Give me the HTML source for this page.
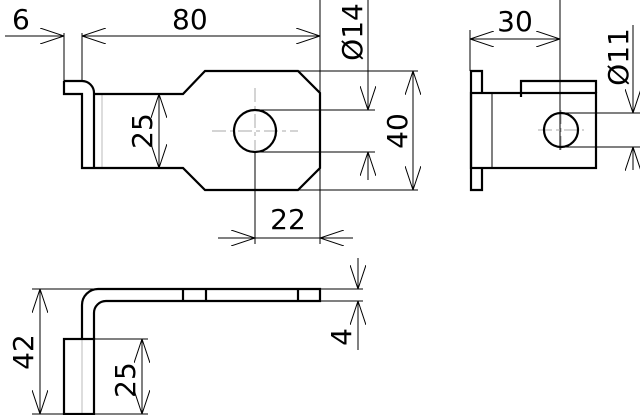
<!DOCTYPE html>
<html><head><meta charset="utf-8"><style>html,body{margin:0;padding:0;background:#fff}svg{display:block}</style></head><body>
<svg width="640" height="415" viewBox="0 0 640 415" xmlns="http://www.w3.org/2000/svg" font-family="'DejaVu Sans','Liberation Sans',sans-serif" font-size="28" fill="none" stroke="#000">
<defs>
<marker id="a" viewBox="0 0 24 16" refX="24" refY="8" markerWidth="24" markerHeight="16" markerUnits="userSpaceOnUse" orient="auto"><path d="M0,0 L24,8 L0,16" stroke="#000" stroke-width="1" fill="none"/></marker>
<marker id="b" viewBox="0 0 24 16" refX="24" refY="8" markerWidth="24" markerHeight="16" markerUnits="userSpaceOnUse" orient="auto-start-reverse"><path d="M0,0 L24,8 L0,16" stroke="#000" stroke-width="1" fill="none"/></marker>
</defs>
<g stroke-width="1">
<line x1="5" y1="36" x2="64" y2="36" marker-end="url(#a)"/>
<line x1="82" y1="36" x2="320" y2="36" marker-start="url(#b)" marker-end="url(#a)"/>
<line x1="64" y1="33" x2="64" y2="81"/>
<line x1="82" y1="33" x2="82" y2="81"/>
<line x1="320" y1="0" x2="320" y2="244"/>
<line x1="159" y1="94" x2="159" y2="168" marker-start="url(#b)" marker-end="url(#a)"/>
<line x1="368" y1="0" x2="368" y2="110" marker-end="url(#a)"/>
<line x1="368" y1="180" x2="368" y2="152" marker-end="url(#a)"/>
<line x1="255" y1="110" x2="375" y2="110"/>
<line x1="255" y1="152" x2="375" y2="152"/>
<line x1="298" y1="71" x2="418" y2="71"/>
<line x1="298" y1="190" x2="418" y2="190"/>
<line x1="413" y1="71" x2="413" y2="190" marker-start="url(#b)" marker-end="url(#a)"/>
<line x1="218" y1="238" x2="255" y2="238" marker-end="url(#a)"/>
<line x1="255" y1="238" x2="353" y2="238"/>
<line x1="353" y1="238" x2="320" y2="238" marker-end="url(#a)"/>
<line x1="255" y1="152" x2="255" y2="244"/>
<line x1="470" y1="39" x2="560" y2="39" marker-start="url(#b)" marker-end="url(#a)"/>
<line x1="470" y1="30" x2="470" y2="71"/>
<line x1="560" y1="0" x2="560" y2="150"/>
<line x1="561" y1="113" x2="640" y2="113"/>
<line x1="561" y1="147" x2="640" y2="147"/>
<line x1="633" y1="25" x2="633" y2="113" marker-end="url(#a)"/>
<line x1="633" y1="170" x2="633" y2="147" marker-end="url(#a)"/>
<line x1="32" y1="289" x2="100" y2="289"/>
<line x1="32" y1="414" x2="148" y2="414"/>
<line x1="40" y1="289" x2="40" y2="414" marker-start="url(#b)" marker-end="url(#a)"/>
<line x1="94" y1="339" x2="148" y2="339"/>
<line x1="142" y1="339" x2="142" y2="414" marker-start="url(#b)" marker-end="url(#a)"/>
<line x1="320" y1="289" x2="363" y2="289"/>
<line x1="320" y1="301" x2="363" y2="301"/>
<line x1="358" y1="258" x2="358" y2="289" marker-end="url(#a)"/>
<line x1="358" y1="350" x2="358" y2="301" marker-end="url(#a)"/>
</g>
<g stroke="#aaa" stroke-width="1" stroke-dasharray="14,4,4,4">
<line x1="212" y1="131" x2="298" y2="131"/>
<line x1="255" y1="88" x2="255" y2="150"/>
<line x1="538" y1="130" x2="584" y2="130"/>
<line x1="561" y1="110" x2="561" y2="150"/>
</g>
<line x1="102" y1="94" x2="102" y2="168" stroke="#bbb" stroke-width="1"/>
<line x1="82" y1="339" x2="82" y2="414" stroke="#bbb" stroke-width="1"/>
<g stroke-width="2.2" stroke-linejoin="miter">
<path d="M64,81 L82,81 A12,12 0 0 1 94,93 L94,168 M64,81 L64,94 L82,94 L82,168 L183,168 L205,190 L298,190 L320,168 L320,93 L298,71 L205,71 L183,94 L94,94"/>
<circle cx="255" cy="131" r="21"/>
<path d="M482,93 L482,71 L471,71 L471,190 L482,190 L482,168"/>
<rect x="471" y="93" width="125" height="75"/>
<path d="M521,97 L521,81 L596,81 L596,93"/>
<circle cx="561" cy="130" r="17"/>
<path d="M82,339 L82,305 A16,16 0 0 1 98,289 L320,289 L320,301 L106,301 A12,12 0 0 0 94,313 L94,339"/>
<line x1="183" y1="289" x2="183" y2="301"/>
<line x1="206" y1="289" x2="206" y2="301"/>
<line x1="298" y1="289" x2="298" y2="301"/>
<rect x="64" y="339" width="30" height="75"/>
</g>
<line x1="492" y1="93" x2="492" y2="168" stroke="#000" stroke-width="1"/>
<g fill="#000" stroke="none">
<text x="12" y="29">6</text>
<text x="172" y="29">80</text>
<text x="288" y="229" text-anchor="middle">22</text>
<text x="515" y="31" text-anchor="middle">30</text>
<text transform="translate(152,131) rotate(-90)" text-anchor="middle">25</text>
<text transform="translate(362,32) rotate(-90)" text-anchor="middle">Ø14</text>
<text transform="translate(407,131) rotate(-90)" text-anchor="middle">40</text>
<text transform="translate(628,57) rotate(-90)" text-anchor="middle">Ø11</text>
<text transform="translate(33,352) rotate(-90)" text-anchor="middle">42</text>
<text transform="translate(135,380) rotate(-90)" text-anchor="middle">25</text>
<text transform="translate(351,337) rotate(-90)" text-anchor="middle">4</text>
</g>
</svg>
</body></html>
